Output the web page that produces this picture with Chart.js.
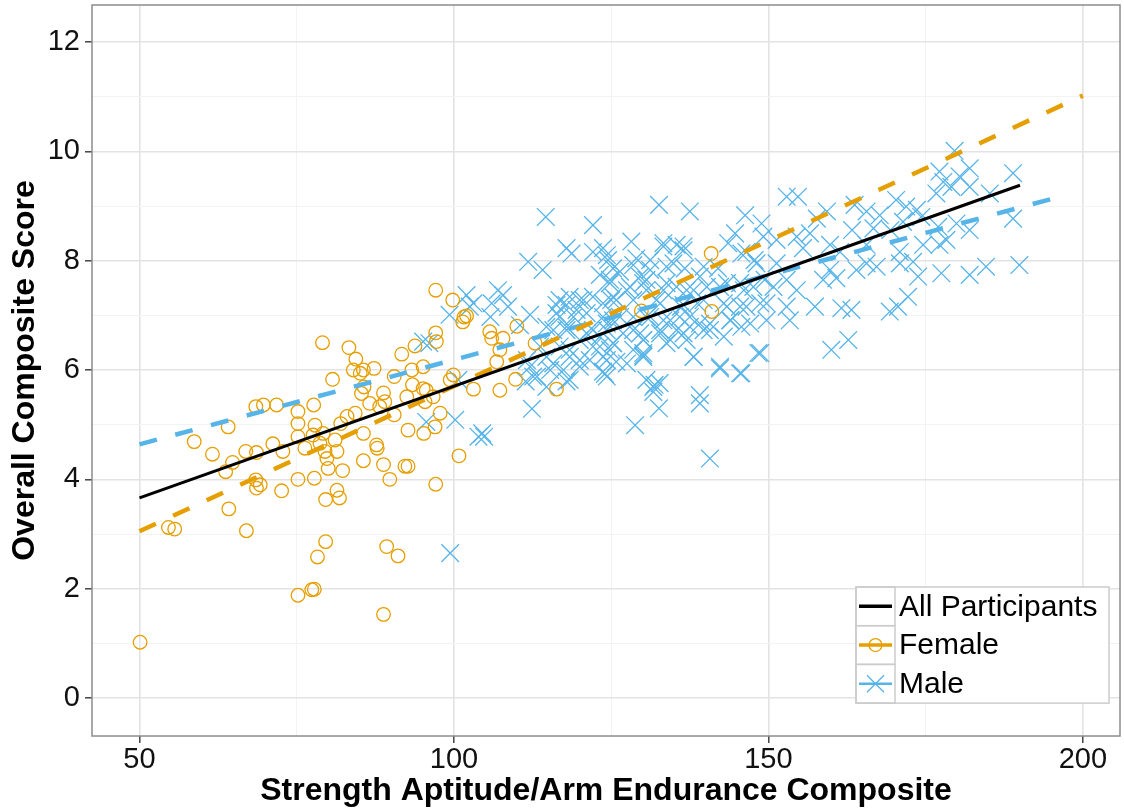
<!DOCTYPE html>
<html><head><meta charset="utf-8">
<script src="https://cdn.jsdelivr.net/npm/chart.js@4.4.1/dist/chart.umd.min.js"></script>
<style>html,body{margin:0;padding:0;background:#fff}#wrap{width:1124px;height:808px;position:relative}</style>
</head><body><div id="wrap"><canvas id="c" width="1124" height="808"></canvas></div>
<script>
// ---------- data ----------
const seriesLabels = ['All Participants', 'Female', 'Male'];
const xTitle = 'Strength Aptitude/Arm Endurance Composite';
const yTitle = 'Overall Composite Score';
const xTicks = [50, 75, 100, 125, 150, 175, 200];
const xLabelTicks = [50, 100, 150, 200];
const yTicks = [0, 1, 2, 3, 4, 5, 6, 7, 8, 9, 10, 11, 12];
const yLabelTicks = [0, 2, 4, 6, 8, 10, 12];

const femalePoints = [[50.1,1.02],[54.6,3.12],[55.6,3.09],[58.7,4.69],[61.6,4.46],[63.7,4.14],[64.1,4.96],[64.2,3.46],[64.8,4.31],[66.9,4.51],
[67.0,3.06],[68.5,5.33],[68.5,3.99],[68.6,4.49],[68.6,3.84],[69.2,3.90],[69.7,5.36],[71.2,4.65],[71.8,5.36],[72.6,3.79],
[72.8,4.51],[75.2,5.24],[75.2,5.02],[75.2,4.78],[75.2,4.00],[75.2,1.88],[76.3,4.57],[77.4,1.98],[77.6,4.81],[77.7,5.36],
[77.8,4.02],[77.8,1.99],[77.9,4.99],[78.3,2.58],[78.7,4.66],[79.1,6.50],[79.2,4.84],[79.5,4.51],[79.6,3.63],[79.6,2.86],
[79.8,4.38],[80.0,4.20],[80.7,5.83],[81.1,4.72],[81.4,4.51],[81.4,3.80],[81.8,3.66],[82.0,5.02],[82.3,4.16],[83.0,5.15],
[83.3,6.41],[84.0,6.00],[84.3,5.21],[84.4,6.20],[85.1,5.94],[85.3,5.57],[85.6,6.00],[85.6,4.84],[85.6,4.34],[85.7,5.69],
[86.6,5.39],[87.3,6.03],[87.7,4.63],[87.8,4.57],[88.2,5.33],[88.8,5.58],[88.8,4.27],[88.8,1.53],[89.0,5.42],[89.3,2.77],
[89.8,4.00],[90.5,5.88],[90.5,5.18],[91.1,2.60],[91.7,6.29],[92.2,4.24],[92.5,5.51],[92.7,4.24],[92.7,4.90],[93.3,6.00],
[93.4,5.73],[93.8,6.44],[95.1,5.66],[95.1,6.06],[95.2,4.84],[95.4,5.42],[95.6,5.63],[96.7,5.51],[97.0,4.96],[97.1,7.46],
[97.1,6.68],[97.1,3.91],[97.2,6.52],[97.8,5.21],[99.4,5.82],[99.8,7.28],[99.9,5.91],[100.8,4.43],[101.4,6.88],[101.6,6.97],
[102.0,6.99],[103.1,5.65],[105.7,6.70],[106.0,6.58],[106.8,6.15],[107.3,6.37],[107.3,5.63],[107.8,6.58],[109.8,5.83],[110.0,6.80],
[112.9,6.49],[116.3,5.65],[129.8,7.08],[140.9,8.13],[141.0,7.07]];

const malePoints = [[95.1,6.52],[95.6,5.05],[96.1,6.49],[99.3,7.01],[99.4,2.65],[100.2,5.09],[100.7,5.82],[102.0,7.37],[102.5,7.16],[103.1,7.22],
[103.9,4.78],[104.5,4.84],[104.8,4.78],[105.8,6.97],[106.0,7.22],[107.0,7.46],[107.8,7.37],[108.6,7.16],[110.5,6.82],[111.4,5.79],
[111.8,7.98],[112.1,7.01],[112.1,6.06],[112.4,5.29],[113.2,5.88],[114.1,7.83],[114.6,8.80],[114.7,6.24],[114.7,5.69],[115.3,6.00],
[115.8,6.73],[116.3,7.19],[116.8,6.97],[116.8,6.43],[117.4,6.00],[117.9,8.23],[117.9,7.19],[117.9,6.79],[117.9,5.79],[118.4,6.24],
[119.0,6.97],[120.0,7.28],[120.0,6.55],[120.0,6.06],[121.1,7.04],[121.6,6.18],[122.1,8.65],[122.1,8.16],[122.1,6.73],[123.2,6.43],
[123.7,8.23],[123.7,7.22],[123.7,6.24],[123.7,5.97],[124.0,5.93],[124.3,8.10],[124.3,6.85],[124.3,6.73],[124.8,7.59],[124.8,6.37],
[125.0,7.28],[125.3,7.86],[125.3,7.34],[125.3,6.49],[125.8,6.15],[126.4,6.97],[127.5,7.46],[128.2,8.35],[128.5,7.92],[128.5,7.28],
[128.5,6.73],[128.8,4.99],[130.1,7.59],[130.1,6.55],[130.1,6.31],[130.6,6.97],[131.2,7.83],[131.7,5.60],[131.9,5.73],[132.2,7.28],
[132.6,9.02],[132.6,5.30],[132.7,5.76],[132.8,6.67],[133.3,8.32],[133.3,7.46],[133.3,6.91],[133.8,7.89],[133.8,6.49],[135.4,8.29],
[135.4,7.52],[135.4,6.73],[135.9,6.97],[136.5,8.19],[136.5,7.19],[136.7,7.86],[137.0,6.55],[137.5,8.90],[137.5,6.79],[138.1,7.46],
[138.1,6.24],[139.1,7.71],[139.1,6.85],[139.1,5.39],[139.7,7.28],[140.7,6.73],[140.7,4.38],[142.0,7.86],[142.3,7.52],[142.3,6.03],
[143.4,7.16],[143.6,8.32],[144.0,6.91],[144.7,8.50],[145.5,7.59],[145.7,6.79],[145.7,5.94],[146.3,8.83],[146.5,8.16],[146.5,7.16],
[147.6,7.52],[148.1,7.95],[148.4,6.31],[148.9,8.68],[149.2,8.44],[149.7,7.22],[149.7,6.91],[150.8,7.52],[151.3,8.38],[151.3,7.95],
[152.9,9.17],[152.9,7.65],[152.9,7.16],[153.4,6.91],[154.5,7.46],[154.5,8.44],[154.7,9.17],[155.5,8.23],[156.6,8.50],[157.4,7.16],
[157.7,8.77],[158.7,7.65],[159.3,8.90],[159.8,8.29],[159.8,7.83],[160.0,6.37],[160.8,7.68],[161.4,8.16],[161.6,7.13],[162.7,6.55],
[163.2,7.10],[163.3,8.56],[163.7,9.02],[164.0,7.83],[165.6,8.90],[165.6,8.29],[165.6,7.95],[166.7,8.59],[167.2,7.89],[167.7,8.83],
[169.3,7.07],[169.4,8.56],[170.3,9.11],[170.6,7.16],[170.9,8.16],[170.9,7.95],[171.4,8.71],[171.9,8.99],[172.2,7.34],[173.0,7.98],
[173.6,8.93],[173.8,7.71],[174.3,8.80],[174.6,8.29],[176.7,9.23],[177.0,8.62],[177.2,9.63],[177.2,8.29],[177.5,7.77],[177.8,9.44],
[178.3,8.38],[179.1,9.35],[179.6,10.01],[179.9,8.68],[180.4,9.54],[182.0,9.69],[182.0,9.35],[182.0,8.56],[182.0,7.74],[184.6,7.89],
[185.2,9.23],[188.9,9.60],[188.9,8.77],[189.9,7.92],
[118.7,8.13],[124.5,8.01],[129.0,8.04],[123.2,7.74],[124.8,7.65],[126.4,7.80],[129.6,7.71],[128.0,7.52],[130.6,7.46],[116.8,7.28],
[118.4,7.34],[120.6,7.28],[122.1,7.34],[125.8,7.28],[116.3,7.04],[119.5,7.10],[123.7,6.97],[125.3,6.91],[128.5,6.97],[114.7,6.79],
[117.9,6.73],[121.1,6.67],[123.2,6.61],[126.9,6.67],[129.6,6.67],[113.7,6.43],[118.4,6.37],[122.1,6.43],[125.3,6.49],[128.5,6.37],
[111.6,6.18],[115.8,6.12],[120.0,6.18],[124.3,6.18],[127.5,6.12],[130.1,6.24],[112.6,5.88],[118.4,5.82],[124.3,5.88],[130.6,5.82],
[133.3,8.26],[136.5,8.26],[131.2,8.01],[134.9,7.95],[139.7,7.89],[145.7,8.13],[147.8,8.01],[149.4,7.65],[130.6,7.65],[133.8,7.59],
[137.0,7.46],[140.2,7.52],[143.4,7.59],[146.1,7.46],[132.8,7.22],[136.1,7.16],[138.7,7.22],[142.9,7.22],[145.5,7.16],[148.7,7.22],
[131.2,6.97],[134.4,6.91],[137.5,6.97],[140.7,6.85],[143.9,6.91],[147.1,6.85],[132.8,6.73],[136.5,6.67],[139.7,6.73],[142.9,6.61],
[130.1,6.55],[134.4,6.55],[130.1,6.27],[138.1,6.24],[148.7,6.31],[142.3,6.06],[145.5,5.94],[131.7,5.69],[139.1,5.54]];

// fitted lines (endpoints)
const allFitX = [50, 190];
const allFitY = [3.66, 9.38];
const femaleFitX = [50, 200];
const femaleFitY = [3.05, 11.02];
const maleFitX = [50, 197];
const maleFitY = [4.64, 9.19];

// ---------- styles ----------
const ORANGE = '#E69F00', BLUE = '#56B4E9', BLACK = '#000000';
const TICK_FONT = {family: "'Liberation Sans', Arial, sans-serif", size: 29};
const TITLE_FONT = {family: "'Liberation Sans', Arial, sans-serif", size: 32, weight: 'bold', lineHeight: 1};

const toXY = arr => arr.map(p => ({x: p[0], y: p[1]}));
const zipXY = (xs, ys) => xs.map((x, i) => ({x: x, y: ys[i]}));

const frameAndLegend = {
  id: 'frameAndLegend',
  afterDatasetsDraw(chart) {
    const {ctx, chartArea: a} = chart;
    ctx.save();
    ctx.strokeStyle = '#8c8c8c';
    ctx.lineWidth = 1.5;
    ctx.strokeRect(a.left, a.top, a.right - a.left, a.bottom - a.top);
    ctx.restore();
  },
  afterDraw(chart) {
    const ctx = chart.ctx;
    const L = 856, T = 587, R = 1109, rowH = 38.7, keyW = 39;
    const B = T + rowH * 3;
    ctx.save();
    ctx.fillStyle = '#ffffff';
    ctx.fillRect(L, T, R - L, B - T);
    ctx.strokeStyle = '#cccccc';
    ctx.lineWidth = 1.5;
    ctx.strokeRect(L, T, R - L, B - T);
    const keys = [
      {label: seriesLabels[0], color: BLACK, lw: 3.5, marker: null},
      {label: seriesLabels[1], color: ORANGE, lw: 3.5, marker: 'circle'},
      {label: seriesLabels[2], color: BLUE, lw: 2.5, marker: 'cross'}
    ];
    keys.forEach((k, i) => {
      const top = T + i * rowH;
      const cy = top + rowH / 2;
      ctx.strokeStyle = '#cccccc';
      ctx.lineWidth = 1.5;
      ctx.strokeRect(L, top, keyW, rowH);
      ctx.strokeStyle = k.color;
      ctx.lineWidth = k.lw;
      ctx.beginPath();
      ctx.moveTo(L + 3, cy);
      ctx.lineTo(L + keyW - 3, cy);
      ctx.stroke();
      ctx.lineWidth = 1.3;
      if (k.marker === 'circle') {
        ctx.beginPath(); ctx.arc(L + keyW / 2, cy, 6.5, 0, Math.PI * 2); ctx.stroke();
      } else if (k.marker === 'cross') {
        const h = 8.5, cx = L + keyW / 2;
        ctx.beginPath();
        ctx.moveTo(cx - h, cy - h); ctx.lineTo(cx + h, cy + h);
        ctx.moveTo(cx - h, cy + h); ctx.lineTo(cx + h, cy - h);
        ctx.stroke();
      }
      ctx.fillStyle = '#000000';
      ctx.font = "30px 'Liberation Sans', Arial, sans-serif";
      ctx.textBaseline = 'middle';
      ctx.textAlign = 'left';
      ctx.fillText(k.label, L + keyW + 4, cy + 1);
    });
    ctx.restore();
  }
};

const majorOrMinor = (labels) => ({
  color: c => labels.includes(c.tick && c.tick.value) ? '#e3e3e3' : '#f3f3f3',
  lineWidth: c => labels.includes(c.tick && c.tick.value) ? 1.6 : 1,
  tickColor: c => labels.includes(c.tick && c.tick.value) ? '#444444' : 'rgba(0,0,0,0)',
  tickLength: 7,
  tickWidth: 1.5,
  drawTicks: true,
  drawOnChartArea: true
});

new Chart(document.getElementById('c'), {
  type: 'scatter',
  data: {
    datasets: [
      {label: seriesLabels[0], data: zipXY(allFitX, allFitY), showLine: true, borderColor: BLACK, borderWidth: 3,
       pointRadius: 0, order: 0},
      {label: seriesLabels[1] + ' fit', data: zipXY(femaleFitX, femaleFitY), showLine: true, borderColor: ORANGE, borderWidth: 4.5,
       borderDash: [18, 19], pointRadius: 0, order: 1},
      {label: seriesLabels[2] + ' fit', data: zipXY(maleFitX, maleFitY), showLine: true, borderColor: BLUE, borderWidth: 4.5,
       borderDash: [18, 19], pointRadius: 0, order: 2},
      {label: seriesLabels[1], data: toXY(femalePoints), pointStyle: 'circle', pointRadius: 6.8, borderWidth: 1.3,
       borderColor: ORANGE, backgroundColor: 'rgba(0,0,0,0)', order: 3},
      {label: seriesLabels[2], data: toXY(malePoints), pointStyle: 'crossRot', pointRadius: 12.5, borderWidth: 1.3,
       borderColor: BLUE, backgroundColor: BLUE, order: 4}
    ]
  },
  options: {
    responsive: false,
    devicePixelRatio: 1,
    animation: false,
    events: [],
    layout: {autoPadding: false, padding: {left: 0, right: 4, top: 5, bottom: 0}},
    plugins: {legend: {display: false}, tooltip: {enabled: false}},
    scales: {
      x: {
        type: 'linear', min: 42.45, max: 205.9,
        afterBuildTicks: s => { s.ticks = xTicks.map(v => ({value: v})); },
        afterFit: s => { s.height = 72; s.paddingLeft = 0; s.paddingRight = 0; },
        ticks: {autoSkip: false, maxRotation: 0, padding: 0, color: '#111111', font: TICK_FONT,
                callback: v => xLabelTicks.includes(v) ? String(v) : ''},
        grid: majorOrMinor(xLabelTicks),
        border: {display: false},
        title: {display: true, text: xTitle, color: '#000000', font: TITLE_FONT, padding: {top: 0, bottom: 1}}
      },
      y: {
        type: 'linear', min: -0.695, max: 12.677,
        afterBuildTicks: s => { s.ticks = yTicks.map(v => ({value: v})); },
        afterFit: s => { s.width = 92; s.paddingTop = 0; s.paddingBottom = 0; },
        ticks: {autoSkip: false, padding: 5, color: '#111111', font: TICK_FONT,
                callback: v => yLabelTicks.includes(v) ? String(v) : ''},
        grid: majorOrMinor(yLabelTicks),
        border: {display: false},
        title: {display: true, text: yTitle, color: '#000000', font: TITLE_FONT, padding: {top: 9, bottom: 0}}
      }
    }
  },
  plugins: [frameAndLegend]
});
</script>
</body></html>
